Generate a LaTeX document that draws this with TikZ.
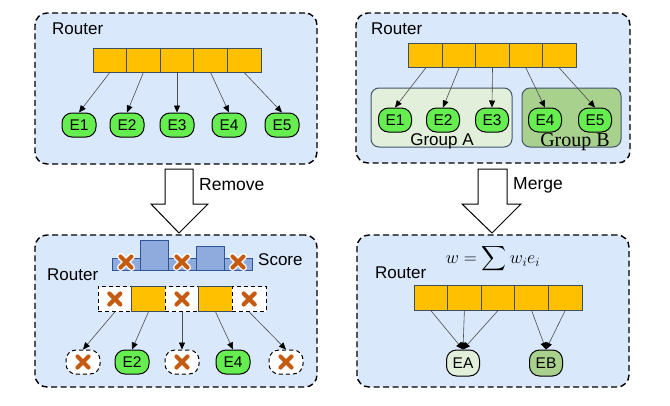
\documentclass[tikz,border=0pt]{standalone}
\usepackage{fix-cm}
\usepackage{exscale}
\usepackage{fontspec}
\setmainfont{Liberation Sans}
\newfontfamily\serifgrp{Liberation Serif}
\usetikzlibrary{arrows.meta}
\definecolor{panelblue}{RGB}{218,232,252}
\definecolor{cellorange}{RGB}{255,192,0}
\definecolor{cellborder}{RGB}{60,78,100}
\definecolor{expgreen}{RGB}{102,238,80}
\definecolor{grpA}{RGB}{226,239,218}
\definecolor{grpB}{RGB}{169,209,142}
\definecolor{grpborder}{RGB}{68,84,106}
\definecolor{scorefill}{RGB}{143,170,220}
\definecolor{scoreborder}{RGB}{47,85,151}
\definecolor{xcol}{RGB}{197,90,17}
\begin{document}
\begin{tikzpicture}[x=1pt,y=-1pt,
  panel/.style={draw=black,line width=1.4pt,dash pattern=on 6pt off 3.5pt,fill=panelblue,rounded corners=12pt,inner sep=0},
  lbl/.style={inner sep=0,anchor=west,font=\fontsize{17}{20}\selectfont},
  cell/.style={draw=cellborder,line width=1pt,fill=cellorange,minimum width=33.6pt,minimum height=24pt,inner sep=0},
  dcell/.style={draw=black,line width=1pt,dash pattern=on 4pt off 3pt,fill=white,minimum width=33.6pt,minimum height=25pt,inner sep=0},
  expert/.style={draw=black,line width=1pt,fill=expgreen,rounded corners=10pt,minimum width=34pt,minimum height=24pt,inner sep=0,font=\fontsize{15.5}{18}\selectfont},
  dexpert/.style={draw=black,line width=1pt,dash pattern=on 4pt off 3pt,fill=white,rounded corners=10pt,minimum width=34pt,minimum height=24pt,inner sep=0},
  grp/.style={draw=grpborder,line width=1pt,rounded corners=8pt,inner sep=0},
  arr/.style={draw=black!70,line width=0.6pt,-{Triangle[length=7pt,width=6pt,color=black]}},
  scorebar/.style={draw=scoreborder,line width=0.9pt,fill=scorefill},
  blockarrow/.style={draw=black,line width=1pt,fill=white},
  xm/.pic={\draw[white,line width=7pt,line cap=round] (-5.5,-5.5)--(5.5,5.5) (-5.5,5.5)--(5.5,-5.5);
           \draw[xcol,line width=4.2pt,line cap=round] (-5.5,-5.5)--(5.5,5.5) (-5.5,5.5)--(5.5,-5.5);}
]
\useasboundingbox (0,0) rectangle (670,405);

% ---------- Panel top-left ----------
\node[panel,minimum width=282pt,minimum height=151pt] (p1) at (176,88.5) {};
\node[lbl] (r1) at (52,29) {Router};
\foreach \i/\x in {1/109.8,2/143.4,3/177,4/210.6,5/244.2}
  \node[cell] (a\i) at (\x,60) {};
\foreach \i/\x in {1/79,2/127,3/177,4/229,5/282}
  \node[expert] (ae\i) at (\x,125) {E\i};
\foreach \i in {1,...,5}
  \draw[arr] (a\i.south) -- (ae\i.north);

% ---------- Panel top-right ----------
\node[panel,minimum width=274pt,minimum height=150pt] (p2) at (493,88) {};
\node[lbl] (r2) at (371,29) {Router};
\node[grp,fill=grpA,minimum width=141pt,minimum height=59pt] (gA) at (441.5,117.5) {};
\node[grp,fill=grpB,minimum width=99pt,minimum height=59pt] (gB) at (571.5,117.5) {};
\foreach \i/\x in {1/425.7,2/459.1,3/492.5,4/525.9,5/559.3}
  \node[cell] (b\i) at (\x,55.5) {};
\foreach \i/\x in {1/395,2/443,3/492,4/545,5/595}
  \node[expert,minimum width=33pt] (be\i) at (\x,120) {E\i};
\foreach \i in {1,...,5}
  \draw[arr] (b\i.south) -- (be\i.north);
\node[inner sep=0,font=\fontsize{17}{20}\selectfont] (tA) at (442,141) {Group A};
\node[inner sep=0,font=\serifgrp\fontsize{20}{24}\selectfont] (tB) at (575,142) {Group B};

% ---------- Block arrows ----------
\draw[blockarrow] (165,169)--(193,169)--(193,204)--(208,204)--(179,233)--(151,204)--(165,204)--cycle;
\node[lbl,font=\fontsize{17.5}{20}\selectfont] (rm) at (199,185) {Remove};
\draw[blockarrow] (478,169)--(507,169)--(507,204)--(521,204)--(492,233)--(462,204)--(478,204)--cycle;
\node[lbl,font=\fontsize{17.5}{20}\selectfont] (mg) at (513,185) {Merge};

% ---------- Panel bottom-left ----------
\node[panel,minimum width=282pt,minimum height=152pt] (p3) at (176,311) {};
\node[lbl] (r3) at (47,274.5) {Router};
\draw[scorebar] (112,258) rectangle (140,270);
\draw[scorebar] (140,240) rectangle (168,270);
\draw[scorebar] (168,258) rectangle (196,270);
\draw[scorebar] (196,246) rectangle (224,270);
\draw[scorebar] (224,258) rectangle (252,270);
\pic at (126,262) {xm};
\pic at (182,262) {xm};
\pic at (238,262) {xm};
\node[lbl] (sc) at (258,260) {Score};
\node[dcell] (c1) at (114.8,299) {};
\node[cell,minimum height=25pt] (c2) at (148.4,299) {};
\node[dcell] (c3) at (182,299) {};
\node[cell,minimum height=25pt] (c4) at (215.6,299) {};
\node[dcell] (c5) at (249.2,299) {};
\pic at (c1) {xm};
\pic at (c3) {xm};
\pic at (c5) {xm};
\node[dexpert] (ce1) at (83,362) {};
\node[expert] (ce2) at (132,362) {E2};
\node[dexpert] (ce3) at (182,362) {};
\node[expert] (ce4) at (233,362) {E4};
\node[dexpert] (ce5) at (286,362) {};
\pic at (ce1) {xm};
\pic at (ce3) {xm};
\pic at (ce5) {xm};
\foreach \i in {1,...,5}
  \draw[arr] (c\i.south) -- (ce\i.north);

% ---------- Panel bottom-right ----------
\node[panel,minimum width=272pt,minimum height=152pt] (p4) at (493,311) {};
\node[inner sep=0,font=\fontsize{18}{22}\selectfont] (fm) at (493,259) {$w=\displaystyle\sum w_i e_i$};
\node[lbl] (r4) at (375,273) {Router};
\foreach \i/\x in {1/430.8,2/464.4,3/498,4/531.6,5/565.2}
  \node[cell,minimum height=25pt] (d\i) at (\x,297.5) {};
\node[expert,fill=grpA,minimum width=33pt,minimum height=26pt] (ea) at (463,363) {EA};
\node[expert,fill=grpB,minimum width=33pt,minimum height=26pt] (eb) at (546,363) {EB};
\foreach \i in {1,2,3}
  \draw[arr] (d\i.south) -- (ea.north);
\foreach \i in {4,5}
  \draw[arr] (d\i.south) -- (eb.north);
\end{tikzpicture}
\end{document}
